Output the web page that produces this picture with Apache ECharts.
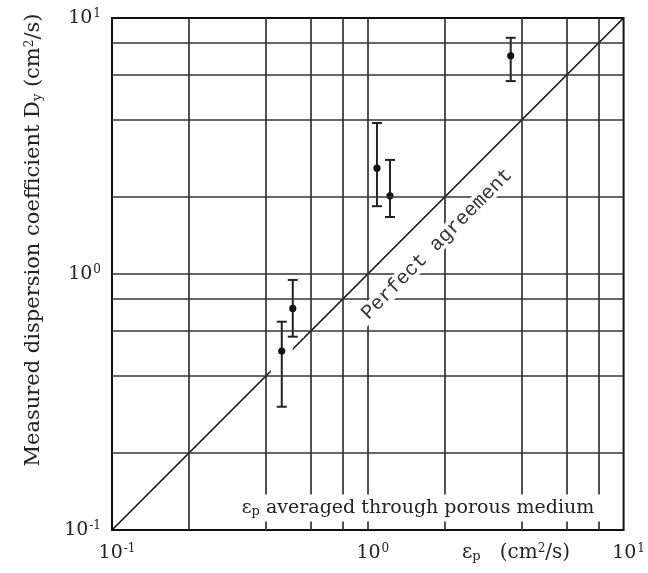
<!DOCTYPE html>
<html><head><meta charset="utf-8">
<script src="https://cdn.jsdelivr.net/npm/echarts@6/dist/echarts.min.js"></script>
<style>html,body{margin:0;padding:0;background:#fff}#c{width:648px;height:573px}</style>
</head><body><div id="c"></div>
<script>
// ---- data ----
const gridX = [0.2, 0.4, 0.6, 0.8, 1, 2, 4, 6, 8];
const gridY = [0.2, 0.4, 0.6, 0.8, 1, 2, 4, 6, 8];
const perfectLine = [[0.1, 0.1], [10, 10]];
const epsP   = [0.461, 0.509, 1.086, 1.221, 3.62];
const dyMean = [0.50, 0.734, 2.59, 2.02, 7.12];
const dyLow  = [0.303, 0.569, 1.84, 1.67, 5.67];
const dyHigh = [0.651, 0.948, 3.89, 2.79, 8.37];
const yName = 'Measured dispersion coefficient D{sub|y} (cm{sup|2}/s)';
const xName = 'ε{sub|p}   (cm{sup|2}/s)';
const noteText = 'ε{sub|p} averaged through porous medium';
const lineText = 'Perfect agreement';

const errData = epsP.map((x, i) => [x, dyMean[i], dyLow[i], dyHigh[i]]);
const SERIF = '"DejaVu Serif", serif';
const INK = '#222';

function supFmt(v) {
  const e = Math.round(Math.log10(v));
  return '10{sup|' + e + '}';
}
const labelRich = {
  sup: { fontSize: 12, fontFamily: SERIF, color: INK, verticalAlign: 'top', padding: [0, 0, 8, 1] }
};

function haloItem(params, api) {
  const x = api.value(0);
  const top = api.coord([x, api.value(3)]);
  const bot = api.coord([x, api.value(2)]);
  return { type: 'rect', shape: { x: top[0] - 11, y: top[1] - 1, width: 22, height: bot[1] - top[1] + 2 }, style: { fill: '#fff' } };
}
function barItem(params, api) {
  const x = api.value(0);
  const c = api.coord([x, api.value(1)]);
  const top = api.coord([x, api.value(3)]);
  const bot = api.coord([x, api.value(2)]);
  const cap = 5;
  const st = { stroke: INK, lineWidth: 2 };
  return { type: 'group', children: [
    { type: 'line', shape: { x1: top[0], y1: top[1], x2: bot[0], y2: bot[1] }, style: st },
    { type: 'line', shape: { x1: top[0] - cap, y1: top[1], x2: top[0] + cap, y2: top[1] }, style: st },
    { type: 'line', shape: { x1: bot[0] - cap, y1: bot[1], x2: bot[0] + cap, y2: bot[1] }, style: st },
    { type: 'circle', shape: { cx: c[0], cy: c[1], r: 3.6 }, style: { fill: '#111' } }
  ] };
}

const chart = echarts.init(document.getElementById('c'), null, { renderer: 'canvas' });
const richText = {
  sub: { fontSize: 13, fontFamily: SERIF, fill: INK, verticalAlign: 'bottom', padding: [8, 0, 0, 0] },
  sup: { fontSize: 12, fontFamily: SERIF, fill: INK, verticalAlign: 'top', padding: [0, 0, 8, 0] }
};
chart.setOption({
  animation: false,
  backgroundColor: '#fff',
  grid: { left: 112, top: 18, right: 23, bottom: 43, show: true, borderColor: '#111', borderWidth: 2, backgroundColor: 'transparent' },
  xAxis: {
    type: 'log', logBase: 10, min: 0.1, max: 10,
    axisLine: { show: false }, axisTick: { show: false }, splitLine: { show: false },
    axisLabel: { formatter: supFmt, fontFamily: SERIF, fontSize: 19, color: INK, margin: 13, padding: [0, 0, 0, 10], rich: labelRich, showMinLabel: true, showMaxLabel: true }
  },
  yAxis: {
    type: 'log', logBase: 10, min: 0.1, max: 10,
    axisLine: { show: false }, axisTick: { show: false }, splitLine: { show: false },
    axisLabel: { formatter: supFmt, fontFamily: SERIF, fontSize: 19, color: INK, margin: 11, rich: labelRich, showMinLabel: true, showMaxLabel: true }
  },
  series: [
    {
      type: 'line', data: [], z: 1, silent: true,
      markLine: {
        silent: true, symbol: 'none', animation: false,
        label: { show: false },
        lineStyle: { color: '#333', width: 1.7, type: 'solid' },
        data: gridX.map(v => ({ xAxis: v })).concat(gridY.map(v => ({ yAxis: v })))
      }
    },
    {
      type: 'line', data: perfectLine, z: 2, symbol: 'none', silent: true,
      lineStyle: { color: '#111', width: 1.6 }
    },
    { type: 'custom', data: errData, z: 3, renderItem: haloItem, encode: { x: 0, y: [1, 2, 3] }, silent: true },
    { type: 'custom', data: errData, z: 4, renderItem: barItem, encode: { x: 0, y: [1, 2, 3] }, silent: true }
  ],
  graphic: [
    { type: 'text', x: 34, y: 240, rotation: Math.PI / 2, z: 10,
      style: { text: yName, fontFamily: SERIF, fontSize: 21, fill: INK, align: 'center', verticalAlign: 'middle', rich: richText } },
    { type: 'text', x: 516, y: 553, z: 10,
      style: { text: xName, fontFamily: SERIF, fontSize: 20, fill: INK, align: 'center', verticalAlign: 'middle', rich: richText } },
    { type: 'text', x: 418, y: 508, z: 10,
      style: { text: noteText, fontFamily: SERIF, fontSize: 19, fill: INK, align: 'center', verticalAlign: 'middle', backgroundColor: '#fff', padding: [3, 6], rich: richText } },
    { type: 'rect', x: 437, y: 244, rotation: Math.PI / 4, z: 9, silent: true,
      shape: { x: -108, y: -9, width: 216, height: 18 }, style: { fill: '#fff' } },
    { type: 'text', x: 437, y: 244, rotation: Math.PI / 4, z: 10,
      style: { text: lineText, fontFamily: '"Liberation Mono", monospace', fontSize: 20, fill: '#333', align: 'center', verticalAlign: 'middle' } }
  ]
});
</script></body></html>
